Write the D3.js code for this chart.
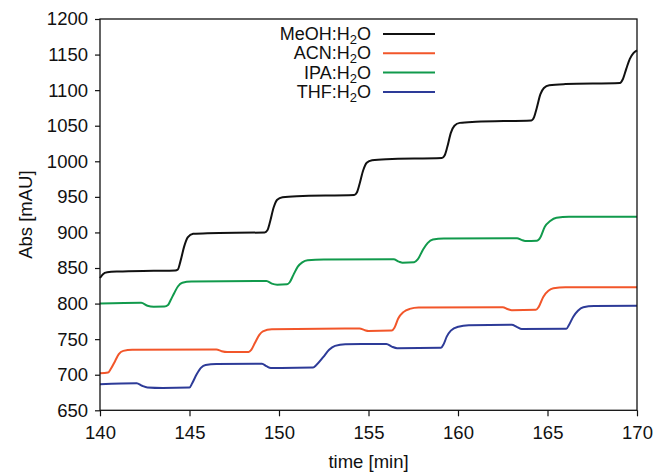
<!DOCTYPE html>
<html>
<head>
<meta charset="utf-8">
<script src="https://cdn.jsdelivr.net/npm/d3@7"></script>
<style>
  html, body { margin: 0; padding: 0; background: #fff; }
  svg { display: block; }
  text { font-family: "Liberation Sans", Arial, Helvetica, sans-serif; fill: #111; }
</style>
</head>
<body>
<svg id="chart" width="658" height="472"></svg>
<script>
// Step-gradient absorbance traces (time in min, absorbance in mAU)
const meohH2O = [
  [140.0, 836], [140.15, 841], [140.4, 844], [141, 845], [143, 846], [144.2, 846.5],
  [144.35, 848], [144.5, 860], [144.7, 880], [144.9, 893], [145.2, 898], [146, 899],
  [149.2, 900], [149.35, 903], [149.5, 915], [149.7, 935], [149.9, 946], [150.2, 949.5],
  [151, 951], [154.2, 952.5], [154.35, 956], [154.5, 968], [154.7, 987], [154.9, 998],
  [155.2, 1001.5], [156, 1003], [159.1, 1004.5], [159.25, 1008], [159.4, 1020], [159.6, 1040],
  [159.8, 1050], [160.1, 1054], [161, 1055.5], [164.1, 1057.5], [164.25, 1062], [164.4, 1075],
  [164.6, 1094], [164.8, 1103], [165.1, 1107], [166, 1108.5], [169.05, 1110], [169.2, 1115],
  [169.4, 1130], [169.6, 1144], [169.8, 1152], [170, 1156]
];
const acnH2O = [
  [140.0, 702], [140.45, 703], [140.6, 708], [140.84, 719], [141.05, 729], [141.3, 733.5],
  [141.8, 735], [146.5, 735.5], [146.8, 733], [147.1, 731.8], [148.3, 732], [148.45, 735],
  [148.66, 745], [148.9, 756], [149.1, 761], [149.6, 764], [154.5, 765], [154.8, 762.5],
  [155.0, 761.5], [156.3, 762], [156.45, 766], [156.66, 779], [156.95, 788], [157.3, 792.5],
  [157.8, 794.5], [162.5, 795], [162.8, 792], [163.0, 790.8], [164.35, 791.2], [164.5, 795],
  [164.77, 809.7], [165.05, 818], [165.33, 821.5], [166, 823], [170, 823]
];
const ipaH2O = [
  [140.0, 800], [142.3, 801], [142.65, 797], [143.0, 795.6], [143.6, 795.8], [143.8, 798],
  [143.95, 805], [144.15, 815], [144.35, 824], [144.6, 829.4], [145.1, 831], [149.3, 831.7],
  [149.6, 828], [149.9, 826.6], [150.45, 827], [150.6, 830], [150.8, 840], [151.05, 852],
  [151.3, 858], [151.6, 861], [152.5, 862], [156.4, 862.3], [156.7, 859], [156.9, 857.5],
  [157.55, 858], [157.75, 862], [158.05, 876], [158.3, 885], [158.6, 890], [159.2, 891.5],
  [163.3, 892], [163.55, 889.5], [163.75, 888], [164.4, 888.3], [164.6, 893], [164.85, 908],
  [165.15, 916], [165.5, 920.7], [166.2, 922], [170, 922]
];
const thfH2O = [
  [140.0, 686.6], [142.05, 688], [142.35, 684.5], [142.65, 682.2], [143.5, 681.5], [145.0, 682],
  [145.15, 688], [145.4, 700.6], [145.65, 710], [145.9, 713.7], [146.5, 715.2], [149.05, 715.5],
  [149.3, 712], [149.55, 709.5], [151.9, 710], [152.1, 714], [152.48, 725], [152.8, 735],
  [153.13, 740.5], [153.7, 743], [156.0, 743.2], [156.3, 739.5], [156.6, 737.2], [159.05, 737.8],
  [159.2, 743], [159.37, 753.5], [159.6, 762], [160.02, 767.5], [160.6, 769.5], [163.0, 770.2],
  [163.3, 767], [163.56, 764.2], [166.05, 764.5], [166.2, 770], [166.44, 781.6], [166.7, 790],
  [167.0, 794.8], [167.6, 796.5], [170, 797]
];

const xTicks = [140, 145, 150, 155, 160, 165, 170];
const yTicks = [650, 700, 750, 800, 850, 900, 950, 1000, 1050, 1100, 1150, 1200];

const seriesNames = ["MeOH", "ACN", "IPA", "THF"];
const seriesColors = ["#111111", "#f2562a", "#119a4c", "#2d3b98"];
const seriesData = [meohH2O, acnH2O, ipaH2O, thfH2O];

const margin = { left: 100, top: 19, right: 21, bottom: 61.7 };
const W = 658, H = 472;
const iw = W - margin.left - margin.right;
const ih = H - margin.top - margin.bottom;

const svg = d3.select("#chart");
const g = svg.append("g").attr("transform", `translate(${margin.left},${margin.top})`);

const x = d3.scaleLinear().domain([140, 170]).range([0, iw]);
const y = d3.scaleLinear().domain([650, 1200]).range([ih, 0]);

// traces
const line = d3.line()
  .x(d => x(d[0]))
  .y(d => y(d[1]))
  .curve(d3.curveMonotoneX);

seriesData.forEach((data, i) => {
  g.append("path")
    .datum(data)
    .attr("fill", "none")
    .attr("stroke", seriesColors[i])
    .attr("stroke-width", 2)
    .attr("stroke-linejoin", "round")
    .attr("d", line);
});

// axes
const xAxis = g.append("g")
  .attr("transform", `translate(0,${ih})`)
  .call(d3.axisBottom(x).tickValues(xTicks).tickSize(6).tickPadding(8).tickFormat(d3.format("d")));
const yAxis = g.append("g")
  .call(d3.axisLeft(y).tickValues(yTicks).tickSize(5).tickPadding(7).tickFormat(d3.format("d")));

[xAxis, yAxis].forEach(a => {
  a.select(".domain").remove();
  a.selectAll(".tick line").attr("stroke", "#111").attr("stroke-width", 1.2);
  a.selectAll(".tick text").style("font-size", "18.5px").attr("fill", "#111")
    .style("font-family", '"Liberation Sans", Arial, sans-serif');
});
xAxis.selectAll(".tick text").attr("dy", "0.78em");

// frame
g.append("rect")
  .attr("x", 0).attr("y", 0)
  .attr("width", iw).attr("height", ih)
  .attr("fill", "none")
  .attr("stroke", "#111")
  .attr("stroke-width", 1.3);

// axis titles
svg.append("text")
  .attr("x", margin.left + iw / 2)
  .attr("y", 468)
  .attr("text-anchor", "middle")
  .style("font-size", "18.5px")
  .text("time [min]");

svg.append("text")
  .attr("transform", `translate(32,${margin.top + ih / 2}) rotate(-90)`)
  .attr("text-anchor", "middle")
  .style("font-size", "18.5px")
  .text("Abs [mAU]");

// legend
const legend = svg.append("g");
seriesNames.forEach((name, i) => {
  const ly = 34 + i * 19.3;
  const t = legend.append("text")
    .attr("x", 371)
    .attr("y", ly + 6)
    .attr("text-anchor", "end")
    .style("font-size", "18px");
  t.append("tspan").text(name + ":H");
  t.append("tspan").attr("dy", 4).style("font-size", "13px").text("2");
  t.append("tspan").attr("dy", -4).text("O");
  legend.append("line")
    .attr("x1", 383).attr("x2", 435)
    .attr("y1", ly).attr("y2", ly)
    .attr("stroke", seriesColors[i])
    .attr("stroke-width", 2);
});
</script>
</body>
</html>
